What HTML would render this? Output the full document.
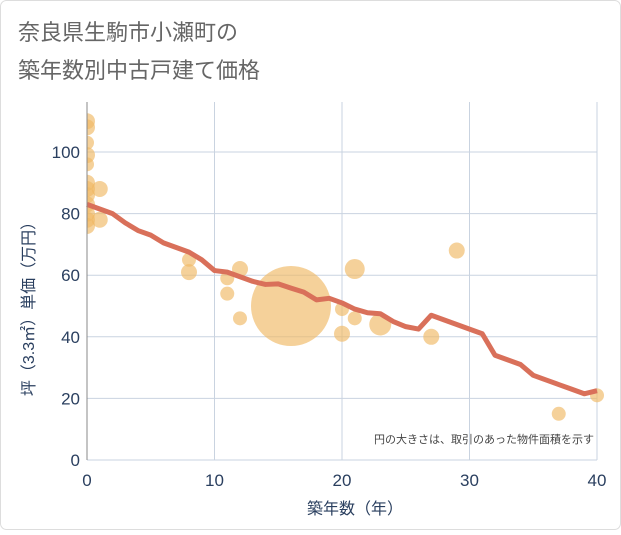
<!DOCTYPE html>
<html><head><meta charset="utf-8"><style>
html,body{margin:0;padding:0;background:#fff;}
svg text{font-family:"Liberation Sans","Noto Sans CJK JP",sans-serif;}
</style></head><body>
<svg id="chart" width="621" height="530" xmlns="http://www.w3.org/2000/svg">
<defs><clipPath id="plotclip"><rect x="87" y="95" width="520" height="366"/></clipPath></defs>
<rect x="0.5" y="0.5" width="620" height="529" rx="6" fill="#fff" stroke="#ddd"/>
<text x="18" y="40" font-size="22" fill="#666">奈良県生駒市小瀬町の</text>
<text x="18" y="78" font-size="22" fill="#666">築年数別中古戸建て価格</text>
<g id="grid"></g>
<g id="bubbles" clip-path="url(#plotclip)"></g>
<g id="line"></g>
<g id="axes"></g>
<text x="594" y="443" font-size="11" fill="#444" text-anchor="end">円の大きさは、取引のあった物件面積を示す</text>
<text x="355" y="514" font-size="16" fill="#2a3f5f" text-anchor="middle">築年数（年）</text>
<text transform="translate(34,305) rotate(-90)" font-size="16" fill="#2a3f5f" text-anchor="middle">坪（3.3㎡）単価（万円）</text>
</svg>
<script>
const xTicks=[0,10,20,30,40];
const yTicks=[0,20,40,60,80,100];
const lineYears=[0,1,2,3,4,5,6,7,8,9,10,11,12,13,14,15,16,17,18,19,20,21,22,23,24,25,26,27,28,29,30,31,32,33,34,35,36,37,38,39,40];
const linePrices=[83,81.5,80,77,74.5,73,70.5,69,67.5,65,61.5,61,59.5,58,57,57.2,55.8,54.5,52,52.5,51,49,47.8,47.5,45,43.3,42.5,47,45.5,44,42.5,41,34,32.5,31,27.5,26,24.5,23,21.5,22.5];
const bubbleYears=[0,0,0,0,0,0,0,0,0,0,0,0,1,1,8,8,11,11,12,12,16,20,20,21,21,23,27,29,37,40];
const bubblePrices=[110,108,103,99,96,90,88,86,83,80,78,76,88,78,65,61,59,54,62,46,50,49,41,62,46,44,40,68,15,21];
const bubbleSizes=[8,8,7,8,7,8,8,8,8,8,8,8,8,8,7,8,7,7,8,7,40,7,8,10,7,11,8,8,7,7];
const X=v=>87+v*12.75, Y=v=>460-v*3.08;
const NS="http://www.w3.org/2000/svg";
function mk(t,a,p){const e=document.createElementNS(NS,t);for(const k in a)e.setAttribute(k,a[k]);p.appendChild(e);return e;}
const grid=document.getElementById('grid'),axes=document.getElementById('axes');
xTicks.forEach(t=>{
 const l=mk('line',{x1:X(t),x2:X(t),y1:Y(0),y2:102,stroke:'#c9d3e0','stroke-width':1},grid);
 
 
 const tx=mk('text',{x:X(t),y:486,'font-size':17,fill:'#2a3f5f','text-anchor':'middle'},axes);
 tx.textContent=t;
 
 
});
yTicks.forEach(t=>{
 const l=mk('line',{x1:87,x2:597,y1:Y(t),y2:Y(t),stroke:'#c9d3e0','stroke-width':1},grid);
 
 
 const tx=mk('text',{x:80,y:Y(t)+6,'font-size':17,fill:'#2a3f5f','text-anchor':'end'},axes);
 tx.textContent=t;
 
 
});
const ax=mk('line',{x1:87,x2:87,y1:102,y2:Y(0),stroke:'#888','stroke-width':1},axes);


const bg=document.getElementById('bubbles');
bubbleYears.forEach((yr,i)=>{
 const c=mk('circle',{cx:X(yr),cy:Y(bubblePrices[i]),r:bubbleSizes[i],fill:'#f0b964','fill-opacity':0.65},bg);
 
 
});
const pts=lineYears.map((yr,i)=>X(yr)+','+Y(linePrices[i])).join(' ');
const pl=mk('polyline',{points:pts,fill:'none',stroke:'#d9705a','stroke-width':5,'stroke-linejoin':'round'},document.getElementById('line'));


</script>
</body></html>
